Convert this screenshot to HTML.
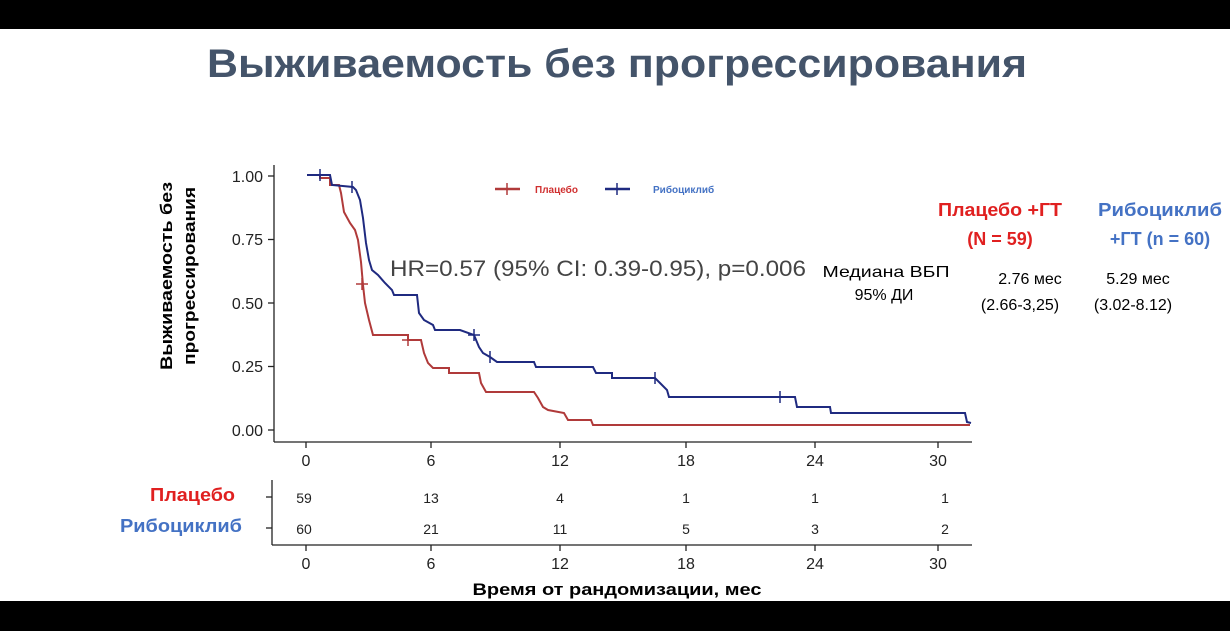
<!DOCTYPE html>
<html><head><meta charset="utf-8"><style>
html,body{margin:0;padding:0;background:#fff;}
svg{display:block;}
text{font-family:"Liberation Sans","DejaVu Sans",sans-serif;}
</style></head><body>
<svg width="1230" height="631" viewBox="0 0 1230 631" xmlns="http://www.w3.org/2000/svg">
<rect x="0" y="0" width="1230" height="631" fill="#fff"/>
<rect x="0" y="0" width="1230" height="29" fill="#000"/>
<rect x="0" y="601" width="1230" height="30" fill="#000"/>
<text x="617" y="77" text-anchor="middle" font-size="40" font-weight="bold" fill="#44546a" textLength="820" lengthAdjust="spacingAndGlyphs">Выживаемость без прогрессирования</text>

<g stroke="#222" stroke-width="1.3" fill="none">
<line x1="274" y1="165" x2="274" y2="442"/>
<line x1="274" y1="442" x2="972" y2="442"/>
<line x1="268" y1="176" x2="274" y2="176"/><line x1="268" y1="239.5" x2="274" y2="239.5"/>
<line x1="268" y1="303" x2="274" y2="303"/><line x1="268" y1="366.5" x2="274" y2="366.5"/>
<line x1="268" y1="430" x2="274" y2="430"/>
<line x1="306" y1="442" x2="306" y2="448"/><line x1="431" y1="442" x2="431" y2="448"/>
<line x1="560" y1="442" x2="560" y2="448"/><line x1="686" y1="442" x2="686" y2="448"/>
<line x1="815" y1="442" x2="815" y2="448"/><line x1="938" y1="442" x2="938" y2="448"/>
</g>
<g font-size="16" fill="#222" text-anchor="end">
<text x="263" y="182">1.00</text><text x="263" y="245">0.75</text><text x="263" y="309">0.50</text>
<text x="263" y="372">0.25</text><text x="263" y="436">0.00</text>
</g>
<g font-size="16" fill="#222" text-anchor="middle">
<text x="306" y="466">0</text><text x="431" y="466">6</text><text x="560" y="466">12</text>
<text x="686" y="466">18</text><text x="815" y="466">24</text><text x="938" y="466">30</text>
</g>
<g font-size="17" font-weight="bold" fill="#000" text-anchor="middle">
<text transform="translate(172,276) rotate(-90)" textLength="188" lengthAdjust="spacingAndGlyphs">Выживаемость без</text>
<text transform="translate(195,276) rotate(-90)" textLength="178" lengthAdjust="spacingAndGlyphs">прогрессирования</text>
</g>

<polyline fill="none" stroke="#b03a3a" stroke-width="2" points="307,175 320,175 320,178 330,178 330,185 339,185 341,193 344,212 350,223 355,230 358,240 361,262 363,285 365,303 369,320 373,335 408,335 408,340 421,340 424,353 428,363 433,368 449,368 449,373 479,373 481,383 486,392 534,392 538,398 543,407 548,410 564,413 568,420 591,420 593,425 970,425"/>
<polyline fill="none" stroke="#1f2a80" stroke-width="2" points="307,175 330,175 332,185 353,187 356,190 360,200 363,218 366,243 369,260 372,270 378,275 385,283 392,290 394,295 417,295 419,313 424,320 433,325 435,330 460,330 474,335 479,347 483,353 490,357 497,362 534,362 536,367 593,367 596,373 612,373 612,378 655,378 660,383 667,390 669,397 795,397 797,407 830,407 831,413 965,413 967,422 971,423"/>
<g stroke="#b03a3a" stroke-width="1.5">
<line x1="362" y1="278" x2="362" y2="290"/><line x1="356" y1="284" x2="368" y2="284"/>
<line x1="408" y1="334" x2="408" y2="346"/><line x1="402" y1="340" x2="414" y2="340"/>
</g>
<g stroke="#1f2a80" stroke-width="1.5">
<line x1="320" y1="169" x2="320" y2="181"/><line x1="352" y1="181" x2="352" y2="193"/>
<line x1="474" y1="329" x2="474" y2="341"/><line x1="468" y1="335" x2="480" y2="335"/>
<line x1="490" y1="351" x2="490" y2="363"/><line x1="655" y1="372" x2="655" y2="384"/>
<line x1="780" y1="391" x2="780" y2="403"/>
</g>

<g stroke-width="2.5"><line x1="495" y1="189" x2="520" y2="189" stroke="#b03a3a"/><line x1="507" y1="183" x2="507" y2="195" stroke="#b03a3a" stroke-width="1.5"/>
<line x1="605" y1="189" x2="630" y2="189" stroke="#1f2a80"/><line x1="617" y1="183" x2="617" y2="195" stroke="#1f2a80" stroke-width="1.5"/></g>
<text x="535" y="193" font-size="10" font-weight="bold" fill="#d03030">Плацебо</text>
<text x="653" y="193" font-size="10" font-weight="bold" fill="#4472c4">Рибоциклиб</text>

<text x="390" y="276" font-size="22" fill="#444" textLength="416" lengthAdjust="spacingAndGlyphs">HR=0.57 (95% CI: 0.39-0.95), p=0.006</text>

<g font-size="16" fill="#000" text-anchor="middle">
<text x="886" y="277" textLength="127" lengthAdjust="spacingAndGlyphs">Медиана ВБП</text><text x="884" y="300">95% ДИ</text>
<text x="1030" y="284">2.76 мес</text><text x="1020" y="310">(2.66-3,25)</text>
<text x="1138" y="284">5.29 мес</text><text x="1133" y="310">(3.02-8.12)</text>
</g>
<g font-size="18" font-weight="bold" text-anchor="middle">
<text x="1000" y="216" fill="#e02020" textLength="124" lengthAdjust="spacingAndGlyphs">Плацебо +ГТ</text><text x="1000" y="245" fill="#e02020">(N = 59)</text>
<text x="1160" y="216" fill="#4472c4" textLength="124" lengthAdjust="spacingAndGlyphs">Рибоциклиб</text><text x="1160" y="245" fill="#4472c4">+ГТ (n = 60)</text>
</g>

<g stroke="#222" stroke-width="1.3">
<line x1="272" y1="480" x2="272" y2="545"/><line x1="272" y1="545" x2="972" y2="545"/>
<line x1="266" y1="497" x2="272" y2="497"/><line x1="266" y1="528" x2="272" y2="528"/>
<line x1="306" y1="545" x2="306" y2="551"/><line x1="431" y1="545" x2="431" y2="551"/>
<line x1="560" y1="545" x2="560" y2="551"/><line x1="686" y1="545" x2="686" y2="551"/>
<line x1="815" y1="545" x2="815" y2="551"/><line x1="938" y1="545" x2="938" y2="551"/>
</g>
<g font-size="14" fill="#222" text-anchor="middle">
<text x="304" y="503">59</text><text x="431" y="503">13</text><text x="560" y="503">4</text><text x="686" y="503">1</text><text x="815" y="503">1</text><text x="945" y="503">1</text>
<text x="304" y="534">60</text><text x="431" y="534">21</text><text x="560" y="534">11</text><text x="686" y="534">5</text><text x="815" y="534">3</text><text x="945" y="534">2</text>
</g>
<g font-size="16" fill="#222" text-anchor="middle">
<text x="306" y="569">0</text><text x="431" y="569">6</text><text x="560" y="569">12</text>
<text x="686" y="569">18</text><text x="815" y="569">24</text><text x="938" y="569">30</text>
</g>
<text x="150" y="501" font-size="18" font-weight="bold" fill="#e02020" textLength="85" lengthAdjust="spacingAndGlyphs">Плацебо</text>
<text x="120" y="532" font-size="18" font-weight="bold" fill="#4472c4" textLength="122" lengthAdjust="spacingAndGlyphs">Рибоциклиб</text>
<text x="617" y="595" text-anchor="middle" font-size="17" font-weight="bold" fill="#000" textLength="289" lengthAdjust="spacingAndGlyphs">Время от рандомизации, мес</text>
</svg>
</body></html>
